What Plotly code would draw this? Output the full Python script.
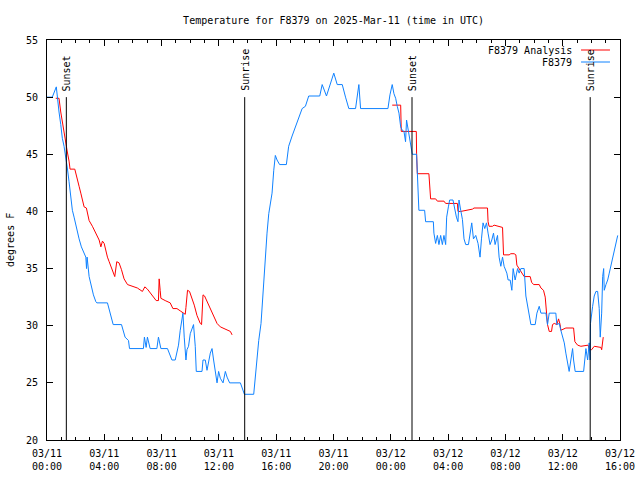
import pandas as pd
import plotly.graph_objects as go

# ---- data (hours after 2025-03-11 00:00 UTC, temperature in F) ----
obs_hours = [0.0, 0.37, 0.65, 0.72, 0.84, 0.96, 1.07, 1.19, 1.31, 1.42, 1.54, 1.66, 1.77, 1.89,
             2.01, 2.12, 2.24, 2.40, 2.54, 2.71, 2.76, 2.80, 2.94, 3.06, 3.24, 3.41, 3.48, 4.22,
             4.34, 4.45, 4.62, 5.20, 5.38, 5.45, 5.69, 5.76, 6.73, 6.80, 6.92, 7.01, 7.20, 7.67,
             7.78, 7.95, 8.41, 8.72, 8.95, 9.18, 9.30, 9.42, 9.49, 9.58, 9.70, 9.77, 9.88, 10.0,
             10.23, 10.35, 10.42, 10.82, 10.89, 11.05, 11.17, 11.40, 11.52, 11.63, 11.87, 11.98,
             12.10, 12.29, 12.45, 12.57, 12.75, 13.50, 13.78, 14.43, 14.55, 14.66, 14.78, 14.94,
             15.06, 15.13, 15.24, 15.36, 15.48, 15.59, 15.71, 15.83, 15.94, 16.06, 16.24, 16.71,
             16.87, 17.11, 17.34, 17.57, 17.81, 18.04, 18.27, 19.04, 19.21, 19.51, 19.79, 20.02,
             20.26, 20.61, 20.84, 21.07, 21.54, 21.77, 21.89, 23.80, 23.94, 24.10, 24.22, 24.34,
             24.45, 24.57, 24.69, 24.80, 24.92, 25.03, 25.10, 25.22, 25.38, 25.50, 25.80, 25.85,
             25.92, 25.96, 26.36, 26.43, 26.97, 27.01, 27.13, 27.25, 27.36, 27.48, 27.60, 27.71,
             27.83, 27.90, 28.02, 28.11, 28.34, 28.46, 28.58, 28.69, 28.76, 28.88, 29.00, 29.11,
             29.23, 29.42, 29.53, 29.65, 29.77, 29.93, 30.09, 30.23, 30.33, 30.44, 30.56, 30.68,
             30.79, 30.93, 31.05, 31.17, 31.28, 31.45, 31.56, 31.68, 31.80, 31.91, 32.10, 32.19,
             32.33, 32.45, 32.54, 32.68, 32.85, 32.96, 33.08, 33.31, 33.43, 33.55, 33.66, 33.78,
             34.08, 34.20, 34.36, 34.48, 34.83, 34.94, 35.06, 35.52, 35.59, 35.76, 35.87, 36.11,
             36.22, 36.34, 36.45, 36.57, 36.69, 36.76, 36.87, 37.46, 37.55, 37.62, 37.74, 37.85,
             37.92, 37.94, 38.09, 38.20, 38.32, 38.44, 38.55, 38.62, 38.72, 38.79, 38.86, 38.90,
             39.02, 39.14, 39.25, 39.37, 39.49, 39.60, 39.72, 39.84]
obs_temp = [50.0, 50.0, 50.9, 49.9, 48.7, 47.6, 46.4, 45.7, 44.8, 43.8, 42.6, 41.1, 40.1, 39.5,
            38.8, 38.2, 37.6, 36.9, 36.5, 36.0, 35.0, 36.0, 34.3, 33.6, 32.7, 32.1, 32.0, 32.0,
            31.4, 30.8, 30.1, 30.1, 29.3, 29.0, 28.7, 28.0, 28.0, 29.0, 28.1, 29.0, 28.0, 28.0,
            29.0, 28.0, 28.0, 27.0, 27.0, 28.3, 29.6, 30.5, 31.1, 29.0, 27.0, 27.9, 28.2, 29.3,
            30.1, 28.2, 26.0, 26.0, 27.0, 27.0, 26.1, 27.6, 28.0, 27.0, 25.0, 26.0,
            25.4, 25.0, 26.0, 25.5, 25.0, 25.0, 24.0, 24.0, 25.8, 27.6, 28.7, 30.2,
            32.5, 34.6, 36.3, 38.1, 39.8, 40.7, 41.6, 43.6, 44.9, 44.5, 44.1, 44.1,
            45.7, 46.6, 47.4, 48.3, 49.0, 49.2, 50.1, 50.1, 51.1, 50.1, 51.1, 52.1,
            51.1, 51.1, 50.0, 49.0, 49.0, 51.1, 49.0, 49.0, 50.2, 51.1, 50.3, 49.9,
            49.2, 48.6, 47.4, 47.1, 47.0, 46.1, 48.0, 47.1, 45.7, 45.0, 45.0, 43.3,
            40.6, 40.1, 40.1, 39.1, 39.1, 38.1, 37.2, 37.9, 37.1, 37.9, 37.1, 37.9,
            37.1, 39.5, 40.4, 41.0, 41.0, 40.1, 39.5, 39.1, 41.0, 40.1, 39.3, 37.6,
            37.1, 37.1, 38.1, 39.0, 37.6, 37.9, 37.2, 36.0, 37.6, 39.0, 38.5, 39.0,
            38.1, 37.1, 37.5, 38.1, 37.1, 37.9, 36.0, 35.2, 36.0, 35.2, 34.6, 34.0,
            34.0, 33.1, 35.0, 34.0, 35.0, 34.6, 35.0, 35.0, 32.6, 31.8, 31.1, 30.1,
            30.1, 31.1, 31.7, 31.1, 31.1, 30.1, 31.1, 31.1, 30.1, 30.2, 29.6, 28.5,
            27.6, 26.8, 26.0, 27.0, 28.0, 27.0, 26.0, 26.0, 27.6, 28.0, 27.0, 28.5,
            27.0, 30.2, 31.7, 32.6, 33.0, 33.0, 31.5, 29.0, 31.1, 34.3, 35.0, 33.1,
            33.6, 34.0, 34.6, 35.3, 35.9, 36.6, 37.3, 37.9]

ana1_hours = [0.61, 0.84, 0.96, 1.07, 1.19, 1.31, 1.42, 1.54, 1.61, 1.94, 2.01, 2.12, 2.24, 2.36,
              2.47, 2.59, 2.75, 2.94, 3.17, 3.41, 3.64, 3.76, 3.87, 3.99, 4.10, 4.22, 4.34, 4.45,
              4.62, 4.73, 4.87, 5.03, 5.20, 5.38, 5.62, 5.85, 6.31, 6.66, 6.83, 7.01, 7.25, 7.48,
              7.62, 7.78, 7.83, 7.90, 7.95, 8.25, 8.60, 8.79, 9.07, 9.30, 9.65, 9.70, 9.81, 9.95,
              10.12, 10.28, 10.47, 10.70, 10.79, 10.86, 10.89, 11.00, 11.17, 11.40, 11.63, 11.87,
              12.10, 12.45, 12.80, 12.92]
ana1_temp = [49.9, 49.9, 48.7, 47.8, 47.0, 46.1, 45.2, 44.4, 43.7, 43.7, 43.3, 42.7, 42.2, 41.6,
             41.0, 40.4, 40.3, 39.2, 38.7, 38.1, 37.5, 36.9, 37.4, 37.2, 36.6, 36.0, 35.6, 35.2,
             34.6, 34.3, 35.6, 35.5, 34.9, 34.1, 33.6, 33.5, 33.3, 33.0, 33.4, 33.2, 32.8, 32.5,
             32.2, 32.2, 34.1, 33.1, 32.4, 32.2, 32.0, 31.5, 31.5, 31.3, 31.0, 31.6, 33.1, 33.0,
             32.4, 31.8, 30.9, 30.2, 30.1, 31.4, 32.7, 32.6, 32.1, 31.5, 30.8, 30.2,
             29.9, 29.7, 29.5, 29.2]

ana2_hours = [24.10, 24.69, 24.73, 25.78, 25.80, 25.85, 26.66, 26.73, 26.78, 27.13, 27.25, 27.71,
              27.83, 28.65, 28.69, 28.88, 29.35, 29.70, 29.81, 30.75, 30.79, 30.86, 31.10, 31.21,
              31.80, 31.84, 31.87, 32.26, 32.38, 32.61, 32.73, 32.80, 32.96, 33.08, 33.31, 33.73,
              33.83, 33.97, 34.36, 34.48, 34.66, 34.78, 34.83, 34.94, 35.06, 35.22, 35.29, 35.41,
              35.59, 35.71, 35.82, 35.87, 36.22, 36.76, 36.85, 37.04, 37.27, 37.78, 37.85, 38.02,
              38.20, 38.67, 38.72, 38.79, 38.83]
ana2_temp = [49.3, 49.3, 47.0, 47.0, 45.1, 43.3, 43.3, 42.2, 41.1, 41.1, 40.9, 40.9,
             40.7, 40.7, 40.0, 40.0, 40.1, 40.2, 40.3, 40.3, 39.1, 38.7, 38.7, 38.8,
             38.6, 37.5, 36.2, 36.2, 36.3, 36.3, 36.2, 35.3, 35.0, 34.7, 34.3, 34.3,
             33.8, 33.6, 33.6, 33.3, 33.1, 32.5, 31.4, 30.1, 29.5, 29.5, 30.1, 30.2,
             30.1, 30.6, 30.1, 29.6, 29.8, 29.8, 28.6, 28.3, 28.2, 28.3, 27.9, 27.9,
             28.2, 28.1, 27.9, 28.7, 29.0]

sun_hours = [1.35, 13.80, 25.48, 37.92]
sun_labels = ["Sunset", "Sunrise", "Sunset", "Sunrise"]

x_ticks_start = "2025-03-11 00:00"
x_ticks_end = "2025-03-12 16:00"
y_range = [20, 55]

title_text = "Temperature for F8379 on 2025-Mar-11 (time in UTC)"
y_title = "degrees F"
series_names = ["F8379 Analysis", "F8379"]
series_colors = ["#ff0000", "#0f82ff"]

# ---- build ----
base = pd.Timestamp(x_ticks_start)
def to_time(hours):
    return [base + pd.to_timedelta(h, unit="h") for h in hours]

FONT = "DejaVu Sans Mono"
fig = go.Figure()

ana_x = to_time(ana1_hours) + [None] + to_time(ana2_hours)
ana_y = ana1_temp + [None] + ana2_temp
fig.add_trace(go.Scatter(x=ana_x, y=ana_y, mode="lines", name=series_names[0],
                         line=dict(color=series_colors[0], width=1), connectgaps=False))
fig.add_trace(go.Scatter(x=to_time(obs_hours), y=obs_temp, mode="lines", name=series_names[1],
                         line=dict(color=series_colors[1], width=1)))

shapes = []
annotations = []
for h, lab in zip(sun_hours, sun_labels):
    t = base + pd.to_timedelta(h, unit="h")
    shapes.append(dict(type="line", xref="x", yref="y", x0=t, x1=t, y0=20, y1=50,
                       line=dict(color="black", width=1)))
    annotations.append(dict(x=t, y=50, xref="x", yref="y", text=lab, textangle=-90,
                            showarrow=False, xanchor="center", yanchor="bottom", yshift=4,
                            font=dict(family=FONT, size=10, color="black")))

# gnuplot-style legend (text left, sample right)
leg_y = [0.975, 0.945]
for name, col, yy in zip(series_names, series_colors, leg_y):
    annotations.append(dict(x=0.9197, y=yy, xref="paper", yref="paper", text=name,
                            showarrow=False, xanchor="right", yanchor="middle",
                            font=dict(family=FONT, size=10, color="black")))
    shapes.append(dict(type="line", xref="paper", yref="paper", x0=0.932, x1=0.9825,
                       y0=yy, y1=yy, line=dict(color=col, width=1)))

annotations.append(dict(x=-0.0646, y=0.5, xref="paper", yref="paper", text=y_title,
                        textangle=-90, showarrow=False, xanchor="center", yanchor="middle",
                        font=dict(family=FONT, size=10, color="black")))

fig.update_layout(
    width=640, height=480,
    margin=dict(l=47, r=20, t=40, b=40),
    paper_bgcolor="white", plot_bgcolor="white",
    showlegend=False,
    title=dict(text=title_text, x=0.5213, xanchor="center", y=1 - 20 / 480, yanchor="middle",
               font=dict(family=FONT, size=10, color="black")),
    font=dict(family=FONT, size=10, color="black"),
    shapes=shapes, annotations=annotations,
    xaxis=dict(type="date", range=[x_ticks_start, x_ticks_end], automargin=False,
               dtick=4 * 3600000, tick0=x_ticks_start, tickformat="%m/%d<br>%H:%M",
               showline=True, linecolor="black", linewidth=1, mirror="allticks",
               ticks="inside", ticklen=6, tickcolor="black", showgrid=False, zeroline=False,
               ticklabelstandoff=4,
               minor=dict(ticks="inside", ticklen=3, dtick=3600000, tickcolor="black",
                          showgrid=False)),
    yaxis=dict(range=y_range, dtick=5, showline=True, linecolor="black", linewidth=1,
               automargin=False,
               mirror="allticks", ticks="inside", ticklen=6, tickcolor="black",
               showgrid=False, zeroline=False, ticklabelstandoff=6),
)

# remove the browser's default 8px page margin so the figure sits at the window origin
fig.write_html("out.html", config={"displayModeBar": False},
               post_script="document.body.style.margin='0';document.body.style.overflow='hidden';")
